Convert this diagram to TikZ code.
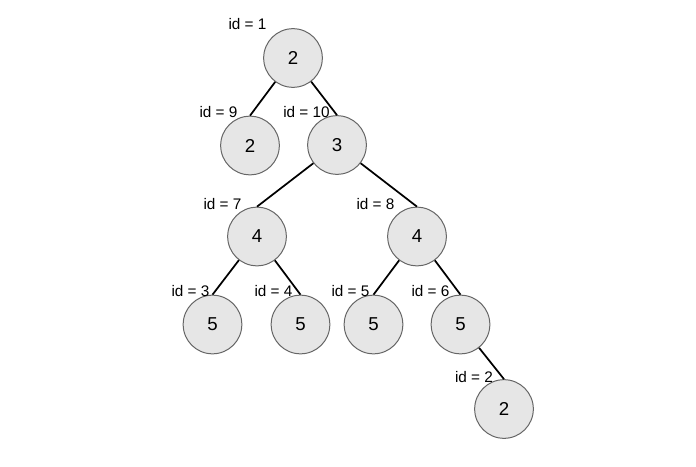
\documentclass[tikz,border=0pt]{standalone}
\usepackage{fontspec}
\setmainfont{Liberation Sans}
\usepackage{xcolor}
\usepackage{tikz}
\definecolor{nodefill}{HTML}{E6E6E6}
\definecolor{nodeline}{HTML}{666666}
\definecolor{branchline}{HTML}{000000}
\begin{document}
\begin{tikzpicture}[x=0.75pt,y=-0.75pt,
  tnode/.style={circle,draw=nodeline,line width=0.75pt,fill=nodefill,minimum size=44pt,inner sep=0pt,font=\fontsize{14}{16}\selectfont},
  idlabel/.style={inner sep=0pt,font=\fontsize{11.5}{14}\selectfont},
  branch/.style={line width=1.3pt,color=branchline}]
  \useasboundingbox (0,0) rectangle (696,467);

  \node[tnode] (n1) at (293,58) {2};
  \node[tnode] (n9) at (250,145.5) {2};
  \node[tnode] (n10) at (337,145) {3};
  \node[tnode] (n7) at (257,236.5) {4};
  \node[tnode] (n8) at (417,236.5) {4};
  \node[tnode] (n3) at (212.5,324.5) {5};
  \node[tnode] (n4) at (300.5,324.5) {5};
  \node[tnode] (n5) at (373.5,324.5) {5};
  \node[tnode] (n6) at (460.5,324.5) {5};
  \node[tnode] (n2) at (504,409) {2};

  \draw[branch] (n1) -- (n9.north);
  \draw[branch] (n1) -- (n10.north);
  \draw[branch] (n10) -- (n7.north);
  \draw[branch] (n10) -- (n8.north);
  \draw[branch] (n7) -- (n3.north);
  \draw[branch] (n7) -- (n4.north);
  \draw[branch] (n8) -- (n5.north);
  \draw[branch] (n8) -- (n6.north);
  \draw[branch] (n6) -- (n2.north);

  \node[idlabel] (l1) at (247.5,24) {id = 1};
  \node[idlabel] (l9) at (218.5,112.5) {id = 9};
  \node[idlabel] (l10) at (306.5,112.5) {id = 10};
  \node[idlabel] (l7) at (222.5,204) {id = 7};
  \node[idlabel] (l8) at (375.5,204) {id = 8};
  \node[idlabel] (l3) at (190.5,291.5) {id = 3};
  \node[idlabel] (l4) at (273.5,291.5) {id = 4};
  \node[idlabel] (l5) at (350.5,291.5) {id = 5};
  \node[idlabel] (l6) at (430.5,291.5) {id = 6};
  \node[idlabel] (l2) at (474,377.5) {id = 2};
\end{tikzpicture}
\end{document}
